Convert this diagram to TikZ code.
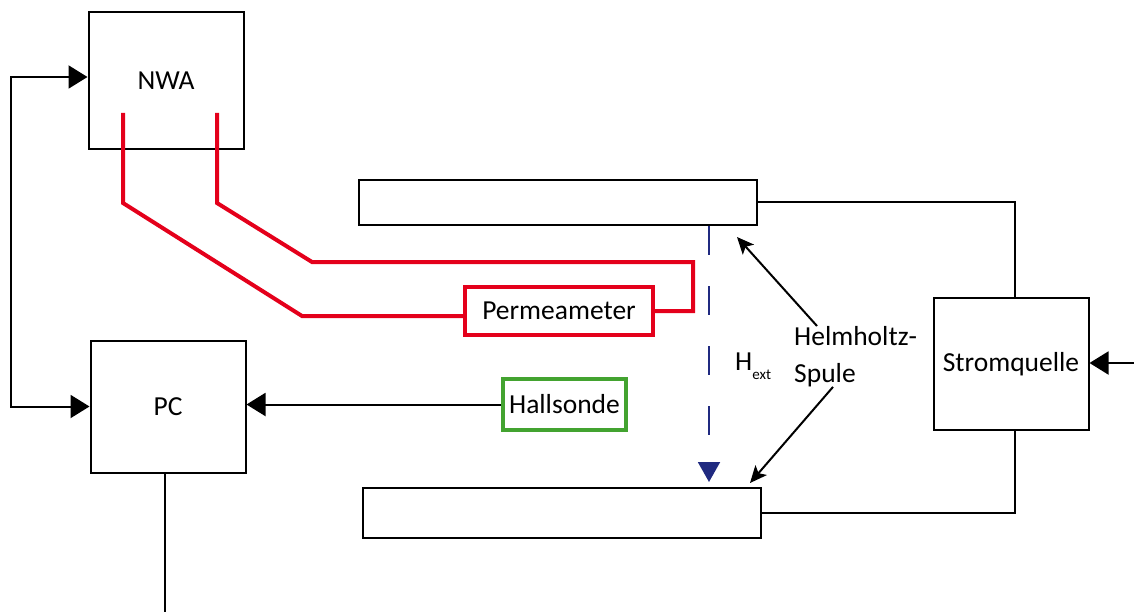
\documentclass[tikz,border=0pt]{standalone}
\usepackage{fontspec}
\setmainfont{Carlito}
\usetikzlibrary{arrows.meta,positioning}
\definecolor{permred}{RGB}{228,0,27}
\definecolor{hallgreen}{RGB}{67,163,48}
\definecolor{fieldblue}{RGB}{32,42,128}
\tikzset{
  box/.style   ={draw,line width=2pt,align=center,inner sep=0pt,
                 font=\fontsize{27.5}{33}\selectfont},
  unit/.style  ={box,minimum width=155pt,minimum height=134pt},
  coil/.style  ={box,minimum width=398pt},
  probe/.style ={box,line width=4pt},
  wire/.style  ={line width=2pt},
  redwire/.style={line width=4pt,permred},
  flow/.style  ={wire,-{Triangle[length=19pt,width=23pt]}},
  flowb/.style ={wire,{Triangle[length=19pt,width=23pt]}-{Triangle[length=19pt,width=23pt]}},
  point/.style ={wire,-{Stealth[length=17pt,width=15pt,inset=4pt]}},
  field/.style ={line width=2pt,fieldblue,dash pattern=on 29pt off 31pt,
                 -{Triangle[length=20pt,width=22pt]}},
  lbl/.style   ={font=\fontsize{27.5}{37}\selectfont,inner sep=0pt},
}

\begin{document}
\begin{tikzpicture}[x=1pt,y=-1pt]
  \useasboundingbox (0,0) rectangle (1134,612);

  % devices
  \node[unit,minimum height=137pt] (nwa)  at (166,81)    {NWA};
  \node[unit,minimum height=132pt] (pc)   at (168,406.5) {PC};
  \node[unit,minimum height=132pt] (strom) at (1011,364) {Stromquelle};

  % coils
  \node[coil,minimum height=45pt] (coiltop) at (558,202.5) {};
  \node[coil,minimum height=50pt] (coilbot) at (562,513)   {};

  % probes
  \node[probe,draw=permred,minimum width=188pt,minimum height=48pt] (perm) at (559,311) {Permeameter};
  \node[probe,draw=hallgreen,minimum width=123pt,minimum height=51pt] (hall) at (564.5,404.5) {Hallsonde};

  % labels
  \node[lbl,anchor=base west] (hext) at (735,370)
    {H\raisebox{-9pt}{\fontsize{15}{15}\selectfont ext}};
  \node[lbl,align=left,anchor=north west] (hs) at (794,326) {Helmholtz-\\Spule};

  % wiring
  \draw[flowb] ([yshift=4pt]nwa.west) -- ++(-77,0) |- (pc.west);
  \draw[flow] (hall.west) -- (hall.west -| pc.east);
  \coordinate (pcout) at (165,612);
  \draw[wire] ([xshift=-3pt]pc.south) -- (pcout);
  \coordinate (supply) at (1134,363);
  \draw[flow] (supply) -- (supply -| strom.east);
  \draw[wire] (coiltop.east) -| ([xshift=4pt]strom.north);
  \draw[wire] (coilbot.east) -| ([xshift=4pt]strom.south);

  % cables NWA -> Permeameter
  \coordinate (nwa-l) at (123,113);
  \coordinate (nwa-r) at (217,113);
  \draw[redwire] (nwa-l) -- (123,203) -- (302,316) -- ([yshift=-5pt]perm.west);
  \draw[redwire] (nwa-r) -- (217,203) -- (312,262) -- (693,262) |- (perm.east);

  % field
  \coordinate (hend) at (709,482);
  \draw[field] (coiltop.south -| hend) -- (hend);

  % coil pointers
  \coordinate (hs-top) at (737,237);
  \coordinate (hs-bot) at (750,483);
  \draw[point] ([xshift=23pt]hs.north west) -- (hs-top);
  \draw[point] ([xshift=39pt]hs.south west) -- (hs-bot);
\end{tikzpicture}
\end{document}
